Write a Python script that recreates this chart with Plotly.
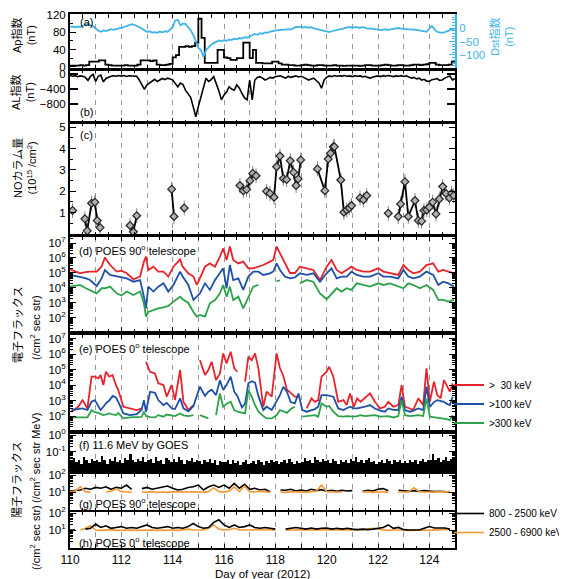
import plotly.graph_objects as go

# ======================= DATA =======================
day_ticks = list(range(110, 126))
day_labels = ["110", "", "112", "", "114", "", "116", "", "118", "", "120", "", "122", "", "124", ""]

# (a) Ap index, 3-hourly values starting at day 110.0
ap_3h = [3, 3, 3, 4, 3, 4, 12, 12,
         12, 15, 15, 5, 4, 3, 3, 3,
         3, 4, 3, 3, 3, 5, 15, 15,
         15, 13, 15, 5, 4, 4, 5, 7,
         22, 27, 46, 46, 48, 46, 48, 56,
         111, 67, 9, 9, 9, 9, 39, 39,
         22, 20, 16, 16, 20, 20, 56, 56,
         20, 39, 9, 9, 8, 8, 8, 12,
         12, 8, 5, 5, 4, 4, 3, 3,
         4, 5, 4, 3, 3, 4, 4, 3,
         3, 3, 4, 3, 3, 2, 3, 3,
         3, 3, 2, 3, 4, 4, 3, 3,
         3, 4, 5, 4, 3, 3, 4, 4,
         3, 3, 4, 5, 5, 4, 5, 6,
         9, 9, 5, 4, 4, 4, 5, 12]

# (a) Dst index, every 0.1 day from 110.0
dst = [4, 6, 3, 5, 4, 8, 12, 16, 10, 6,
       -2, -10, -14, -9, -11, -6, -4, -7, -3, -1,
       0, 3, 7, 10, 14, 12, 8, 4, -2, -8,
       -14, -12, -17, -15, -18, -13, -16, -12, -14, -6,
       4, 28, 30, 10, 16, 15, 5, -8, -25, -48,
       -74, -82, -106, -82, -70, -62, -56, -52, -46, -49,
       -45, -47, -43, -44, -40, -42, -37, -39, -34, -36,
       -30, -27, -22, -25, -19, -21, -16, -18, -13, -11,
       -9, -8, -6, -7, -5, -4, -6, 0, 4, 3,
       5, 2, 4, 1, 3, -1, -3, -5, -9, -11,
       -13, -15, -12, -9, -6, -5, -3, 0, 2, 3,
       1, 3, 2, 1, 3, 0, -2, -1, -3, -5,
       -6, -8, -6, -5, -7, -4, -3, -1, 0, -2,
       -3, -5, -4, -6, -5, -7, -8, -9, -12, -14,
       -2, 8, -5, -14, -16, -18, -15, -11, -7, -3,
       -1]

# (b) AL index, every 0.1 day from 110.0
al = [-40, -60, -45, -70, -50, -60, -90, -170, -60, -10,
      -200, -60, -30, -210, -120, -80, -60, -45, -60, -40,
      -55, -40, -65, -45, -50, -70, -60, -160, -300, -410,
      -290, -240, -180, -140, -200, -160, -120, -150, -110, -130,
      -160, -250, -340, -240, -280, -430, -520, -620, -870, -1140,
      -870, -600, -340, -110, -200, -150, -70, -250, -450, -690,
      -560, -480, -340, -400, -430, -290, -380, -520, -640, -690,
      -160, -690, -160, -90, -70, -110, -160, -130, -90, -110,
      -70, -60, -50, -80, -110, -60, -90, -70, -50, -80,
      -60, -90, -120, -160, -130, -110, -180, -240, -380, -160,
      -90, -50, -70, -40, -60, -45, -55, -40, -60, -50,
      -70, -45, -60, -50, -75, -60, -90, -110, -80, -60,
      -50, -70, -45, -60, -40, -55, -70, -50, -60, -45,
      -65, -50, -80, -110, -90, -130, -110, -160, -140, -190,
      -200, -150, -140, -120, -170, -160, -110, -80, -50, -160,
      -120]

# (c) NO column density (10^15 /cm^2)
no_day = [110.1, 110.58, 110.67, 110.84, 110.97, 111.06, 111.17, 112.34, 112.47, 112.6,
          113.96, 114.05, 114.45, 116.62, 116.75, 116.88, 117.01, 117.12, 117.25, 117.66,
          117.79, 117.95, 118.05, 118.18, 118.31, 118.44, 118.58, 118.71, 118.81, 118.89,
          118.99, 119.64, 119.93, 120.06, 120.15, 120.26, 120.3, 120.55, 120.67, 120.78,
          120.88, 120.97, 121.3, 121.43, 121.56, 122.4, 122.79, 122.88, 123.05, 123.18,
          123.44, 123.57, 123.7, 123.79, 123.9, 124.0, 124.13, 124.26, 124.39, 124.52,
          124.65, 124.78, 124.87, 124.95]
no_val = [1.1, 0.71, 0.15, 1.44, 1.49, 0.63, 0.3, 0.4, 0.1, 0.86,
          2.1, 0.82, 1.22, 2.27, 2.03, 2.08, 2.5, 2.84, 2.73, 2.0,
          1.9, 1.72, 3.15, 3.65, 2.6, 2.55, 3.43, 2.89, 2.27, 2.58,
          3.47, 3.05, 2.03, 3.51, 3.78, 4.09, 4.09, 2.53, 1.02, 1.13,
          1.22, 1.33, 1.69, 1.6, 1.8, 0.97, 0.82, 1.41, 2.45, 0.82,
          1.57, 0.63, 0.6, 1.1, 1.13, 1.25, 1.49, 0.94, 1.64, 2.22,
          1.9, 1.69, 1.9, 1.8]
no_err = 0.35

# (d) POES 90 deg electrons, log10 flux
d_day = [110.0, 110.2, 110.39, 110.6, 110.78, 111.04, 111.23, 111.36, 111.56, 111.82,
         112.0, 112.21, 112.47, 112.73, 112.88, 112.96, 113.05, 113.25, 113.44, 113.64,
         113.83, 114.03, 114.29, 114.39, 114.61, 114.81, 114.94, 115.06, 115.26, 115.45,
         115.65, 115.84, 115.97, 116.1, 116.23, 116.36, 116.56, 116.75, 116.95, 117.14,
         117.34, 117.53, 117.79, 117.92, 118.05, 118.18, 118.37, 118.57, 118.76, 118.96,
         119.22, 119.48, 119.74, 120.0, 120.19, 120.39, 120.58, 120.78, 120.97, 121.17,
         121.43, 121.69, 122.01, 122.21, 122.47, 122.79, 122.99, 123.18, 123.38, 123.63,
         123.89, 124.15, 124.35, 124.54, 124.74, 124.96]
d30_log = [5.24, 5.1, 4.98, 5.05, 5.09, 5.09, 5.42, 6.04, 5.53, 5.09,
           5.15, 4.98, 4.58, 4.76, 5.76, 6.09, 5.2, 5.42, 5.09, 5.09,
           4.76, 5.42, 5.91, 5.42, 4.98, 4.76, 4.2, 4.64, 5.42, 5.64,
           5.42, 6.09, 6.64, 5.87, 6.76, 5.87, 5.64, 5.76, 5.31, 5.31,
           5.42, 5.53, 5.76, 5.87, 6.76, 6.3, 5.64, 5.0, 5.0, 5.42,
           5.31, 5.2, 4.53, 5.42, 5.87, 5.2, 4.98, 5.2, 5.42, 5.2,
           5.09, 5.09, 5.31, 5.09, 4.98, 4.87, 5.53, 5.2, 4.98, 5.09,
           5.53, 5.64, 5.09, 5.2, 5.09, 4.98]
d100_log = [4.87, 4.8, 4.76, 4.65, 4.53, 4.13, 4.64, 5.2, 4.87, 4.76,
            4.7, 4.64, 4.42, 4.53, 3.42, 2.64, 4.09, 3.76, 4.09, 4.31,
            3.76, 4.2, 5.09, 4.76, 4.2, 3.2, 3.42, 3.64, 4.31, 3.87,
            4.53, 4.98, 5.31, 3.98, 5.53, 4.53, 4.64, 3.87, 4.76, 5.09,
            5.09, 4.87, 4.98, 5.1, 5.64, 5.2, 4.76, 4.64, 4.7, 4.98,
            4.87, 4.98, 4.42, 4.98, 5.31, 4.64, 4.76, 4.76, 5.09, 4.87,
            4.76, 4.76, 4.98, 4.76, 4.76, 4.64, 5.2, 4.76, 4.64, 4.76,
            5.09, 4.87, 4.2, 4.42, 4.31, 4.09]
d300_log = [4.09, 4.15, 4.2, 4.0, 3.87, 3.64, 3.98, 3.98, 4.09, 3.64,
            3.5, 3.76, 3.53, 3.76, 2.98, 2.09, 2.4, 2.55, 2.64, 2.7,
            2.8, 3.09, 3.42, 3.25, 3.0, 2.4, 2.09, 2.2, 2.09, 2.98,
            3.2, 3.64, 4.2, 3.42, 4.09, 3.2, 3.42, 2.64, 3.42, 4.09,
            4.2, None, None, None, 4.45, 4.5, None, None, None, 4.31,
            4.53, 4.42, 3.64, 3.25, 3.6, 3.98, 3.76, 3.98, 3.87, 4.31,
            4.2, 4.09, 4.31, 4.2, 4.31, 4.09, 3.98, 4.31, 4.2, 3.98,
            4.2, 3.87, 3.2, 3.2, 3.09, 3.2]

# (e) POES 0 deg electrons, log10 flux
e_day = [110.06, 110.32, 110.49, 110.68, 110.84, 110.97, 111.1, 111.19, 111.3, 111.4,
         111.53, 111.66, 111.79, 111.88, 112.08, 112.34, 112.6, 112.79, 112.88, 112.96,
         113.12, 113.31, 113.44, 113.64, 113.77, 113.96, 114.09, 114.29, 114.42, 114.61,
         114.81, 114.95, 115.06, 115.26, 115.39, 115.52, 115.69, 115.84, 115.97, 116.1,
         116.26, 116.4, 116.52, 116.7, 116.82, 116.95, 117.08, 117.21, 117.34, 117.53,
         117.66, 117.86, 118.05, 118.18, 118.31, 118.45, 118.6, 118.76, 118.9, 119.05,
         119.22, 119.41, 119.54, 119.67, 119.8, 120.0, 120.1, 120.26, 120.45, 120.65,
         120.78, 120.91, 121.06, 121.19, 121.32, 121.49, 121.69, 121.88, 122.08, 122.27,
         122.4, 122.6, 122.79, 122.92, 123.05, 123.25, 123.37, 123.57, 123.76, 123.89,
         124.02, 124.18, 124.31, 124.44, 124.57, 124.67, 124.8, 124.91]
e30_log = [2.28, 2.6, 3.03, 2.49, 4.54, 4.54, 4.43, 4.65, 4.0, 4.86,
           4.54, 4.65, 4.0, 3.68, 2.6, 2.49, 2.39, 2.49, None, 5.5,
           4.86, 4.75, 4.11, 4.0, 3.25, 4.0, 3.03, 4.97, 2.92, 2.39,
           2.71, None, 5.61, 4.65, 4.97, 5.5, 4.32, 4.75, 6.04, 5.4,
           6.15, 5.08, 4.86, None, 4.22, 5.83, 5.61, 6.04, 5.08, 2.6,
           3.57, 3.25, 6.04, 5.1, 4.6, 3.7, 3.5, 3.25, 3.25, None,
           2.49, 3.14, 2.92, 3.03, 4.54, 4.86, 5.18, 4.54, 2.92, 3.03,
           2.71, 3.46, 2.6, 3.14, 2.92, 3.14, 3.46, 2.92, 2.49, 2.6,
           2.92, 2.6, 2.71, 4.0, 2.6, 2.49, 2.39, 3.14, 2.71, 5.08,
           2.92, 4.22, 3.35, 3.14, 4.32, 4.0, 3.57, 4.11]
e100_log = [2.39, 2.45, 2.49, 2.39, 2.92, 3.03, 2.6, 2.39, 2.6, 2.82,
            3.0, 3.3, 3.2, 2.92, 2.17, 2.06, 2.13, 2.39, 3.03, 2.28,
            3.57, 3.5, 3.03, 2.71, 2.85, 2.5, 2.45, 3.14, 2.5, 2.3,
            2.65, 3.3, 3.89, 3.3, 3.57, 3.7, 3.35, 4.3, 3.68, 4.0,
            4.54, 3.57, 3.3, 2.55, 2.8, 4.11, 4.25, 4.15, 3.3, 2.39,
            2.6, 2.39, 3.0, 3.35, 3.89, 3.57, 2.9, 2.82, 3.45, 2.39,
            2.28, 2.39, 2.45, 2.6, 3.35, 3.35, 3.3, 3.25, 2.49, 2.39,
            2.5, 2.6, 2.5, 2.49, 2.55, 2.6, 2.71, 2.49, 2.35, 2.28,
            2.49, 2.4, 2.39, 3.25, 2.39, 2.28, 2.35, 2.49, 2.39, 3.89,
            2.6, 2.9, 3.03, 2.95, 2.92, 2.8, 2.71, 3.25]
e300_log = [1.91, 1.91, 1.91, 1.91, 2.39, 2.25, 2.2, 2.15, 2.06, 2.1,
            2.17, 2.1, 2.06, 2.2, 1.85, 1.91, 1.91, 1.95, 2.28, 2.0,
            1.93, 1.91, 2.06, 1.96, 2.1, 2.05, 2.0, 2.17, 2.05, 2.0,
            2.06, None, 2.06, 1.95, 1.85, None, 2.06, 3.46, 2.6, 2.8,
            2.92, 2.39, 2.28, 2.2, 2.17, 3.68, 3.25, 2.71, 2.3, 2.0,
            1.85, 1.85, 2.06, 2.39, 2.3, 2.2, 2.45, 2.6, None, 1.96,
            2.0, 2.0, 2.06, 1.96, 2.82, 2.6, 2.65, 2.28, 2.0, 1.96,
            2.0, 1.98, 1.96, 2.0, 2.06, 2.0, 2.03, 2.06, 1.96, 2.0,
            2.0, 1.91, 2.0, 3.03, 2.06, 2.0, 2.02, 2.06, 2.0, 3.14,
            1.96, 1.93, 1.91, 1.88, 1.85, 1.8, 1.74, 2.06]

# (f) GOES 11.6 MeV protons, log10 flux, every 0.1 day
goes_log = [-1.55, -1.35, -1.6, -1.45, -1.7, -1.3, -1.5, -1.65, -1.4, -1.55,
            -1.45, -1.6, -1.25, -1.5, -1.7, -1.4, -1.55, -1.3, -1.6, -1.5,
            -1.65, -1.35, -1.5, -1.1, -1.45, -1.6, -1.4, -1.55, -1.3, -1.6,
            -1.5, -1.4, -1.65, -1.3, -1.55, -1.45, -1.7, -1.35, -1.5, -1.6,
            -1.4, -1.6, -1.3, -1.5, -1.7, -1.45, -1.55, -1.35, -1.6, -1.5,
            -1.55, -1.7, -1.45, -1.6, -1.4, -1.65, -1.5, -1.75, -1.55, -1.6,
            -1.6, -1.5, -1.7, -1.45, -1.65, -1.55, -1.75, -1.6, -1.5, -1.7,
            -1.65, -1.55, -1.7, -1.5, -1.6, -1.75, -1.55, -1.65, -1.45, -1.6,
            -1.55, -1.7, -1.6, -1.5, -1.65, -1.4, -1.6, -1.7, -1.55, -1.65,
            -1.6, -1.35, -1.55, -1.45, -1.65, -1.3, -1.5, -1.6, -1.4, -1.55,
            -1.5, -1.65, -1.4, -1.55, -1.7, -1.45, -1.6, -1.5, -1.65, -1.4,
            -1.55, -1.3, -1.6, -1.45, -1.65, -1.5, -1.35, -1.6, -1.55, -1.7,
            -1.6, -1.5, -1.65, -1.4, -1.55, -1.7, -1.5, -1.6, -1.45, -1.65,
            -1.55, -1.65, -1.45, -1.6, -1.5, -1.7, -1.55, -1.4, -1.6, -1.5,
            -1.45, -1.1, -1.5, -1.35, -1.6, -1.45, -1.3, -1.55, -1.4, -1.35]

# (g) POES 90 deg protons, log10 flux, every 0.2 day
g800_log = [1.06, 1.1, 1.12, 1.22, 1.16,  1.27, 1.22, 1.31, 1.16, 1.27,
            1.22, 1.41, 1.16, None, 1.2,  1.27, 1.16, 1.22, 1.31, 1.35,
            1.22, 1.12, 1.16, 1.27, 1.31,  1.41, 1.12, 1.31, 1.41, 1.27,
            1.41, 1.22, 1.51, 1.22, 1.45,  1.16, 1.22, 1.12, 1.16, 1.02,
            None, 1.12, 1.1, 1.16, 1.06,  1.12, 1.06, 1.16, 1.08, 1.14,
            1.05, 1.1, 1.04, 1.1, 1.06,  1.08, None, 1.04, 1.1, 1.06,
            1.16, 1.2, 1.08, None, 1.1,  1.06, 1.04, 1.08, 1.04, 1.08,
            1.04, 1.02, 1.04, 1.02, 1.0]
g2500_log = [1.0, 1.05, 1.3, 1.02, 0.98,  None, None, 1.0, 1.05, 1.2,
             1.02, 1.0, 0.98, None, 1.0,  0.98, 1.02, 0.98, 1.0, 0.98,
             1.02, 1.0, 0.98, 1.0, 1.02,  1.0, 0.98, 1.02, 1.25, 1.02,
             1.0, 1.05, 1.3, 1.02, 1.35,  1.02, 1.0, 1.05, 1.0, 0.98,
             None, 1.0, 0.98, 1.02, 1.0,  1.0, 0.98, 1.02, 1.05, 1.41,
             1.02, 1.0, 0.98, 1.0, None,  1.0, None, 1.0, 1.02, 0.98,
             1.0, 1.02, 0.98, None, 1.0,  1.02, 1.0, 1.25, 1.02, 1.0,
             0.98, 1.0, 1.02, 1.0, 1.05]

# (h) POES 0 deg protons, log10 flux, every 0.2 day
h800_log = [1.0, 1.0, None, 1.05, 1.1,  1.35, 1.15, 1.25, 1.1, 1.15,
            1.2, 1.1, 1.15, 1.1, 1.2,  1.3, 1.15, 1.1, 1.15, 1.2,
            1.1, 1.15, 1.1, 1.2, 1.38,  1.2, 1.1, 1.15, 1.45, 1.6,
            1.3, 1.15, 1.3, 1.15, 1.2,  1.3, 1.15, 1.1, 1.15, 1.1,
            1.05, None, 1.05, 1.1, 1.15,  1.1, 1.05, 1.12, 1.05, 1.1,
            1.12, 1.05, 1.1, 1.05, 1.1,  1.05, 1.02, 1.05, 1.02, 1.05,
            1.08, 1.15, 1.3, 1.1, 1.15,  1.02, 1.0, 1.02, 1.0, 1.1,
            1.2, 1.12, 1.1, 1.12, 1.05]
h2500_log = [None, None, 1.0, 1.1, 1.25,  1.0, 0.98, 1.0, 1.02, 0.98,
             1.0, 1.02, 1.0, 0.98, 1.0,  1.02, 1.0, 0.98, 1.0, 1.02,
             1.0, 0.98, 1.0, 1.05, 1.0,  0.98, 1.0, 1.1, 1.3, 1.05,
             1.0, 1.02, 1.1, 1.0, 0.98,  1.0, 1.02, 1.0, 0.98, 1.0,
             1.0, None, 1.0, 0.98, 1.0,  1.02, 1.0, 0.98, 1.0, 1.02,
             1.0, 0.98, 1.0, 1.02, 1.0,  0.98, 1.0, 1.02, 1.05, 1.1,
             1.05, 1.0, 0.98, 1.0, 1.02,  1.0, 0.98, 1.0, 1.02, 1.0,
             0.98, 1.0, 1.02, 1.0, 1.05]

# ======================= STYLE / LAYOUT =======================
FONT = "Liberation Sans, Arial, Noto Sans CJK JP, sans-serif"
RED, BLUE, GREEN = "#e8232b", "#1f50a8", "#2ca24a"
CYAN, ORANGE = "#3db5e6", "#f39a36"
OFF = 8                      # page body margin of the html page
W, H = 559, 571
ML, MR, MT, MB = 62, 112, 6, 31
PW, PH = W - ML - MR, H - MT - MB


def px_x(px):   # page pixel -> paper x
    return (px - OFF - ML) / PW


def px_y(py):   # page pixel -> paper y
    return (H - MB - (py - OFF)) / PH


def unlog(arr):
    return [None if v is None else 10 ** v for v in arr]


panels = {  # top px, bottom px (page coordinates)
    1: (14, 69), 2: (70, 122), 3: (123, 234), 4: (237, 331),
    5: (335, 430), 6: (434, 472), 7: (474, 510), 8: (512, 548),
}

fig = go.Figure()

# (a) Ap and Dst
ap_x = [110 + 0.125 * i for i in range(len(ap_3h))] + [125]
ap_y = ap_3h + [ap_3h[-1]]
fig.add_trace(go.Scatter(x=ap_x, y=ap_y, mode="lines", line=dict(color="black", width=1.8, shape="hv"),
                         xaxis="x", yaxis="y", showlegend=False))
dst_x = [110 + 0.1 * i for i in range(len(dst))]
fig.add_trace(go.Scatter(x=dst_x, y=dst, mode="lines", line=dict(color=CYAN, width=1.8),
                         xaxis="x", yaxis="y9", showlegend=False))

# (b) AL
al_x = [110 + 0.1 * i for i in range(len(al))]
fig.add_trace(go.Scatter(x=al_x, y=al, mode="lines", line=dict(color="black", width=1.6),
                         xaxis="x2", yaxis="y2", showlegend=False))

# (c) NO column: break the line where observations are missing
cx, cy = [], []
for i, (d, v) in enumerate(zip(no_day, no_val)):
    if i > 0 and d - no_day[i - 1] > 0.3:
        cx.append(None)
        cy.append(None)
    cx.append(d)
    cy.append(v)
fig.add_trace(go.Scatter(x=cx, y=cy, mode="lines+markers",
                         line=dict(color="black", width=1.8),
                         marker=dict(symbol="diamond", size=6, color="#b0b0b0",
                                     line=dict(width=1.2, color="#222")),
                         error_y=dict(type="constant", value=no_err, color="#888", thickness=1, width=0),
                         xaxis="x3", yaxis="y3", showlegend=False))

# (d) electrons 90 deg
for arr, col, name in [(d30_log, RED, ">\u00a0\u00a030 keV"), (d100_log, BLUE, ">100 keV"),
                       (d300_log, GREEN, ">300 keV")]:
    fig.add_trace(go.Scatter(x=d_day, y=unlog(arr), mode="lines", line=dict(color=col, width=1.8),
                             name=name, legend="legend", xaxis="x4", yaxis="y4", showlegend=True))
# (e) electrons 0 deg
for arr, col in [(e30_log, RED), (e100_log, BLUE), (e300_log, GREEN)]:
    fig.add_trace(go.Scatter(x=e_day, y=unlog(arr), mode="lines", line=dict(color=col, width=1.8),
                             xaxis="x5", yaxis="y5", showlegend=False))

# (f) GOES protons
goes_x = [110.05 + 0.1 * i for i in range(len(goes_log))]
fig.add_trace(go.Bar(x=goes_x, y=unlog(goes_log), width=0.1, marker=dict(color="black", line=dict(width=0)),
                     xaxis="x6", yaxis="y6", showlegend=False))

# (g), (h) POES protons
pg_x = [110 + 0.2 * i for i in range(len(g800_log))]
fig.add_trace(go.Scatter(x=pg_x, y=unlog(g800_log), mode="lines", line=dict(color="black", width=1.6),
                         name="800 - 2500 keV", legend="legend2", xaxis="x7", yaxis="y7", showlegend=True))
fig.add_trace(go.Scatter(x=pg_x, y=unlog(g2500_log), mode="lines", line=dict(color=ORANGE, width=1.6),
                         name="2500 - 6900 keV", legend="legend2", xaxis="x7", yaxis="y7", showlegend=True))
fig.add_trace(go.Scatter(x=pg_x, y=unlog(h2500_log), mode="lines", line=dict(color=ORANGE, width=1.6),
                         xaxis="x8", yaxis="y8", showlegend=False))
fig.add_trace(go.Scatter(x=pg_x, y=unlog(h800_log), mode="lines", line=dict(color="black", width=1.6),
                         xaxis="x8", yaxis="y8", showlegend=False))

layout = dict(
    width=W, height=H, autosize=False,
    margin=dict(l=ML, r=MR, t=MT, b=MB, autoexpand=False),
    paper_bgcolor="white", plot_bgcolor="white",
    font=dict(family=FONT, size=11.5, color="black"),
    bargap=0,
)

tickfont = dict(family=FONT, size=11.5, color="black")

for i in range(1, 9):
    xk = "xaxis" if i == 1 else f"xaxis{i}"
    yk = "y" if i == 1 else f"y{i}"
    layout[xk] = dict(
        domain=[0, 1], range=[110, 125], anchor=yk,
        tickmode="array", tickvals=day_ticks, ticktext=day_labels,
        showticklabels=(i == 8), tickfont=dict(family=FONT, size=12, color="black"),
        ticks="inside", ticklen=4, tickcolor="black",
        showline=True, linewidth=2, linecolor="black", mirror="allticks",
        showgrid=True, gridcolor="#9a9a9a", gridwidth=1, griddash="5px,5px",
        zeroline=False, automargin=False,
        minor=dict(tickmode="linear", tick0=110, dtick=0.5, ticks="inside", ticklen=2.5,
                   tickcolor="black", showgrid=False),
    )
    if i > 1:
        layout[xk]["matches"] = "x"


def yax(i, **kw):
    top, bot = panels[i]
    d = dict(domain=[px_y(bot), px_y(top)], anchor="x" if i == 1 else f"x{i}",
             showline=True, linewidth=2, linecolor="black", mirror="allticks",
             ticks="inside", ticklen=6, tickcolor="black", tickfont=tickfont,
             showgrid=False, zeroline=False, automargin=False)
    d.update(kw)
    return d


def sup_ticks(exps):
    return [10 ** e for e in exps], [f"10<sup>{e}</sup>" for e in exps]


def log_minor(lo, hi):
    return [m * 10 ** e for e in range(lo, hi) for m in range(2, 10)]


layout["yaxis"] = yax(1, range=[-5, 122], tickvals=[0, 40, 80, 120], mirror=False,
                      minor=dict(tickmode="linear", tick0=0, dtick=20, ticks="inside", ticklen=3, tickcolor="black"))
layout["yaxis9"] = dict(overlaying="y", side="right", anchor="x", range=[-152, 52],
                        tickmode="array", tickvals=[0, -50, -100], ticktext=["0", "\u221250", "\u2212100"],
                        tickfont=dict(family=FONT, size=11.5, color=CYAN),
                        showline=True, linewidth=2, linecolor=CYAN, ticks="inside", ticklen=6, tickcolor=CYAN,
                        showgrid=False, zeroline=False, automargin=False,
                        minor=dict(tickmode="linear", tick0=0, dtick=10, ticks="inside", ticklen=3, tickcolor=CYAN))
layout["yaxis2"] = yax(2, range=[-1280, 107], tickvals=[0, -400, -800], ticktext=["0", "\u2212400", "\u2212800"],
                       ticklen=8, tickwidth=2)
layout["yaxis3"] = yax(3, range=[0, 5.2], tickvals=[1, 2, 3, 4, 5],
                       minor=dict(tickmode="linear", tick0=0, dtick=0.5, ticks="inside", ticklen=3, tickcolor="black"))
tv, tt = sup_ticks([2, 3, 4, 5, 6, 7])
layout["yaxis4"] = yax(4, type="log", range=[1.13, 7.4], tickvals=tv, ticktext=tt,
                       minor=dict(tickmode="array", tickvals=log_minor(1, 8), ticks="inside", ticklen=3, tickcolor="black"))
layout["yaxis5"] = yax(5, type="log", range=[1.1, 7.23], tickvals=tv, ticktext=tt,
                       minor=dict(tickmode="array", tickvals=log_minor(1, 8), ticks="inside", ticklen=3, tickcolor="black"))
tv6, tt6 = sup_ticks([-1, 0])
layout["yaxis6"] = yax(6, type="log", range=[-2.18, 0.06], tickvals=tv6, ticktext=tt6,
                       minor=dict(tickmode="array", tickvals=log_minor(-3, 1), ticks="inside", ticklen=3, tickcolor="black"))
tv7, tt7 = sup_ticks([1, 2])
layout["yaxis7"] = yax(7, type="log", range=[-0.06, 2.06], tickvals=tv7, ticktext=tt7,
                       minor=dict(tickmode="array", tickvals=log_minor(0, 3), ticks="inside", ticklen=3, tickcolor="black"))
layout["yaxis8"] = yax(8, type="log", range=[-0.06, 2.06], tickvals=tv7, ticktext=tt7,
                       minor=dict(tickmode="array", tickvals=log_minor(0, 3), ticks="inside", ticklen=3, tickcolor="black"))

layout["legend"] = dict(x=px_x(449), y=px_y(404), xanchor="left", yanchor="middle",
                        font=dict(family=FONT, size=10, color="black"), bgcolor="rgba(0,0,0,0)",
                        borderwidth=0, tracegroupgap=0, itemwidth=30)
layout["legend2"] = dict(x=px_x(449), y=px_y(523), xanchor="left", yanchor="middle",
                         font=dict(family=FONT, size=10, color="black"), bgcolor="rgba(0,0,0,0)",
                         borderwidth=0, tracegroupgap=0, itemwidth=30)

anns = []


def ann(text, xp, yp, size=11, angle=0, color="black", xanchor="center"):
    anns.append(dict(text=text, x=px_x(xp), y=px_y(yp), xref="paper", yref="paper",
                     showarrow=False, textangle=angle, xanchor=xanchor, yanchor="middle",
                     font=dict(family=FONT, size=size, color=color)))


# panel tags
ann("(a)", 78, 22, xanchor="left")
ann("(b)", 78, 112, xanchor="left")
ann("(c)", 78, 135, xanchor="left")
ann("(d) POES 90<sup>o</sup> telescope", 77, 250, xanchor="left")
ann("(e) POES 0<sup>o</sup> telescope", 77, 348, xanchor="left")
ann("(f) 11.6 MeV by GOES", 77, 445, xanchor="left")
ann("(g) POES 90<sup>o</sup> telescope", 77, 503, xanchor="left")
ann("(h) POES 0<sup>o</sup> telescope", 77, 542, xanchor="left")
# axis titles
ann("Ap指数<br>(nT)", 24, 36, angle=-90)
ann("AL指数<br>(nT)", 22, 93, angle=-90)
ann("NOカラム量<br>(10<sup>15</sup> /cm<sup>2</sup>)", 25, 168, angle=-90)
ann("電子フラックス", 18, 325, angle=-90)
ann("(/cm<sup>2</sup> sec str)", 35, 328, angle=-90)
ann("(/cm<sup>2</sup> sec str MeV)", 35, 458, angle=-90)
ann("陽子フラックス", 17, 480, angle=-90)
ann("(/cm<sup>2</sup> sec str)", 35, 538, angle=-90)
ann("Dst指数<br>(nT)", 502, 37, angle=-90, color=CYAN)
ann("Day of year (2012)", 262, 573.5, size=11.5)
layout["annotations"] = anns

fig.update_layout(**layout)
fig.write_html("out.html")
